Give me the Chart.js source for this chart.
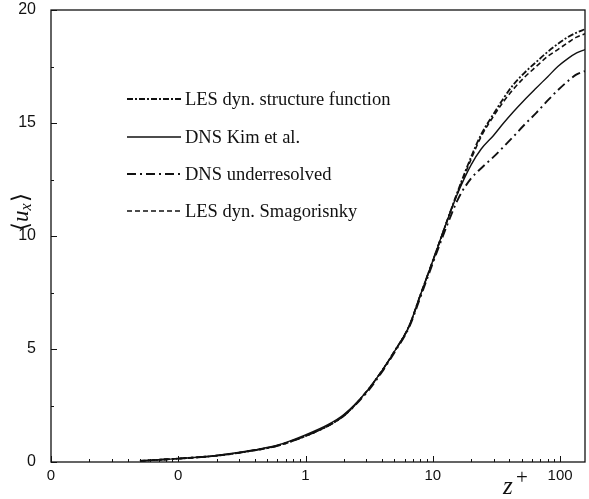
<!DOCTYPE html>
<html>
<head>
<meta charset="utf-8">
<script src="https://cdn.jsdelivr.net/npm/chart.js@4.4.1/dist/chart.umd.min.js"></script>
<style>
  html, body { margin: 0; padding: 0; background: #fff; }
  #wrap { width: 589px; height: 499px; }
</style>
</head>
<body>
<div id="wrap"><canvas id="chart" width="589" height="499"></canvas></div>
<script>
// wall distance z+ (log axis) and mean velocity <u_x>
var zPlus = [0.05, 0.1, 0.2, 0.4, 0.6, 1, 1.5, 2, 3, 4, 5, 6.5, 8, 10, 13, 16,
             20, 24, 30, 36, 43, 52, 65, 80, 96, 115, 135, 157];
var uStructFn = [0.05, 0.15, 0.28, 0.52, 0.72, 1.15, 1.6, 2.05, 3.1, 4.05, 4.9, 6.0, 7.4, 8.9, 10.7, 12.1,
                 13.5, 14.5, 15.4, 16.1, 16.7, 17.2, 17.7, 18.15, 18.5, 18.8, 19.0, 19.15];
var uKim = [0.05, 0.15, 0.29, 0.54, 0.74, 1.2, 1.65, 2.1, 3.1, 4.05, 4.9, 6.0, 7.4, 8.9, 10.7, 12.0,
            13.15, 13.85, 14.45, 15.0, 15.5, 16.0, 16.55, 17.05, 17.5, 17.85, 18.1, 18.25];
var uUnderres = [0.05, 0.15, 0.28, 0.52, 0.72, 1.15, 1.6, 2.05, 3.05, 4.0, 4.85, 5.95, 7.3, 8.8, 10.5, 11.7,
                 12.55, 13.0, 13.5, 13.95, 14.4, 14.9, 15.45, 16.0, 16.45, 16.85, 17.15, 17.3];
var uSmag = [0.05, 0.15, 0.28, 0.52, 0.72, 1.15, 1.6, 2.05, 3.1, 4.05, 4.9, 6.0, 7.4, 8.9, 10.7, 12.05,
             13.4, 14.4, 15.3, 15.95, 16.5, 17.0, 17.5, 17.95, 18.25, 18.55, 18.8, 18.95];

var xTicks = [0.01, 0.1, 1, 10, 100];
var xTickLabels = ["0", "0", "1", "10", "100"];     // labels as printed in the figure
var yTicks = [0, 5, 10, 15, 20];
var legendNames = ["LES dyn. structure function", "DNS Kim et al.", "DNS underresolved", "LES dyn. Smagorisnky"];

function pts(u) { return zPlus.map(function(z, i){ return {x: z, y: u[i]}; }); }

var seriesStyle = [
    {data: uStructFn, dash: [6, 2, 2, 2], width: 1.8},
    {data: uKim,      dash: [],           width: 1.4},
    {data: uUnderres, dash: [9, 4, 2, 4], width: 1.9},
    {data: uSmag,     dash: [5, 3],       width: 1.6}
];

// frame, inward ticks, legend and axis titles
var decorPlugin = {
    id: 'decor',
    afterDraw: function(chart) {
        var ctx = chart.ctx, a = chart.chartArea;
        var xs = chart.scales.x, ys = chart.scales.y;
        ctx.save();
        ctx.strokeStyle = '#111';
        ctx.lineWidth = 1.3;
        ctx.strokeRect(a.left, a.top, a.right - a.left, a.bottom - a.top);

        ctx.lineWidth = 1;
        ctx.beginPath();
        for (var d = 0.01; d < 200; d *= 10) {
            for (var m = 1; m < 10; m++) {
                var v = d * m;
                if (v < xs.min || v > xs.max) continue;
                var px = Math.round(xs.getPixelForValue(v)) + 0.5;
                var len = (m === 1) ? 6 : 3;
                ctx.moveTo(px, a.bottom); ctx.lineTo(px, a.bottom - len);
            }
        }
        for (var yv = 0; yv <= 20; yv += 2.5) {
            var py = Math.round(ys.getPixelForValue(yv)) + 0.5;
            var l = (yv % 5 === 0) ? 6 : 3;
            ctx.moveTo(a.left, py); ctx.lineTo(a.left + l, py);
        }
        ctx.stroke();

        // legend
        ctx.font = '18.5px "Liberation Serif", "Times New Roman", serif';
        ctx.textBaseline = 'middle';
        ctx.fillStyle = '#111';
        var ly = [99, 137, 174, 211];
        chart.data.datasets.forEach(function(ds, i) {
            ctx.beginPath();
            ctx.setLineDash(ds.borderDash || []);
            ctx.lineWidth = ds.borderWidth;
            ctx.moveTo(127, ly[i]); ctx.lineTo(181, ly[i]);
            ctx.stroke();
            ctx.setLineDash([]);
            ctx.fillText(legendNames[i], 185, ly[i] + 1);
        });

        // x title z+
        ctx.font = 'italic 25px "Liberation Serif", serif';
        ctx.textBaseline = 'alphabetic';
        ctx.fillText('z', 503, 494);
        ctx.font = '21px "Liberation Serif", serif';
        ctx.fillText('+', 516, 484);

        // y title <u_x>
        ctx.translate(22, 205);
        ctx.rotate(-Math.PI / 2);
        ctx.textBaseline = 'middle';
        ctx.font = '23px "Liberation Serif", serif';
        var x0 = -26;
        ctx.fillText('\u27E8', x0, 0);
        x0 += ctx.measureText('\u27E8').width;
        ctx.font = 'italic 23px "Liberation Serif", serif';
        ctx.fillText('u', x0, 0);
        x0 += ctx.measureText('u').width;
        ctx.font = 'italic 16px "Liberation Serif", serif';
        ctx.fillText('x', x0, 5);
        x0 += ctx.measureText('x').width + 1;
        ctx.font = '23px "Liberation Serif", serif';
        ctx.fillText('\u27E9', x0, 0);
        ctx.restore();
    }
};

var ctx = document.getElementById('chart');
var chart = new Chart(ctx, {
    type: 'line',
    data: {
        datasets: seriesStyle.map(function(s, i) {
            return {
                label: legendNames[i],
                data: pts(s.data),
                borderColor: '#111',
                borderWidth: s.width,
                borderDash: s.dash,
                pointRadius: 0,
                fill: false,
                cubicInterpolationMode: 'monotone'
            };
        })
    },
    options: {
        responsive: false,
        animation: false,
        layout: { padding: { top: 10, right: 4, left: 0, bottom: 0 } },
        plugins: { legend: { display: false }, tooltip: { enabled: false } },
        scales: {
            x: {
                type: 'logarithmic',
                min: 0.01,
                max: 157,
                grid: { display: false, drawTicks: false },
                border: { display: false },
                afterBuildTicks: function(scale) {
                    scale.ticks = xTicks.map(function(v){ return {value: v}; });
                },
                afterFit: function(scale) {
                    scale.height = 37;
                    scale.paddingLeft = 0; scale.paddingRight = 0;
                },
                ticks: {
                    autoSkip: false,
                    maxRotation: 0,
                    padding: 5,
                    color: '#111',
                    font: { family: '"Liberation Sans", Arial, sans-serif', size: 15 },
                    callback: function(v) {
                        var k = xTicks.indexOf(v);
                        return k >= 0 ? xTickLabels[k] : '';
                    }
                }
            },
            y: {
                min: 0,
                max: 20,
                grid: { display: false, drawTicks: false },
                border: { display: false },
                afterBuildTicks: function(scale) {
                    scale.ticks = yTicks.map(function(v){ return {value: v}; });
                },
                afterFit: function(scale) {
                    scale.width = 51;
                    scale.paddingTop = 0; scale.paddingBottom = 0;
                },
                ticks: {
                    padding: 15,
                    color: '#111',
                    font: { family: '"Liberation Sans", Arial, sans-serif', size: 16 }
                }
            }
        }
    },
    plugins: [decorPlugin]
});
</script>
</body>
</html>
